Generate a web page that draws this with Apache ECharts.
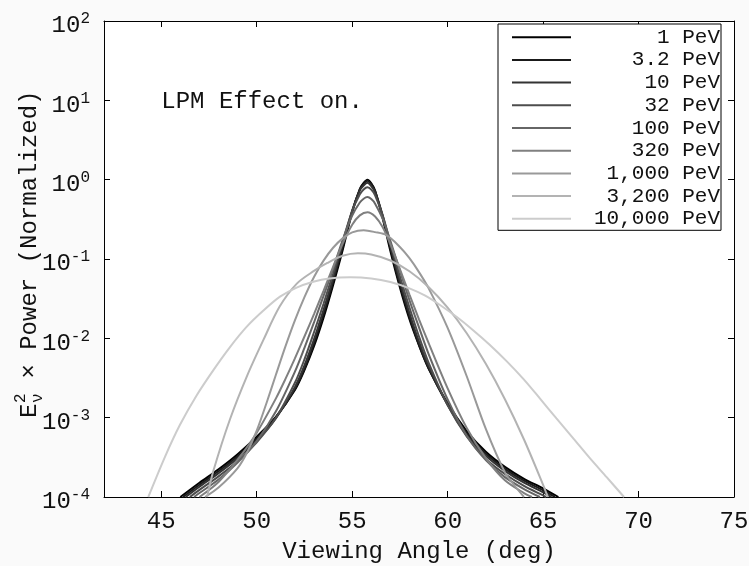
<!DOCTYPE html>
<html>
<head>
<meta charset="utf-8">
<script src="https://cdn.jsdelivr.net/npm/echarts@6/dist/echarts.min.js"></script>
<style>
  html, body { margin: 0; padding: 0; background: #fafafa; }
  #chart { width: 749px; height: 566px; }
</style>
</head>
<body>
<div id="chart"></div>
<script>
// Normalised radio power vs. viewing angle, one curve per shower energy.
// Each point is [viewing angle in deg, log10(E^2 x power)].
const curve1PeV = [[46.0,-4.00],[47,-3.82],[48,-3.65],[49,-3.46],[50,-3.24],[51,-2.99],[52,-2.65],[52.5,-2.40],[53,-2.10],[53.5,-1.74],[54,-1.33],[54.5,-0.89],[55,-0.41],[55.4,-0.12],[55.6,-0.04],[55.8,0.00],[56.0,-0.045],[56.2,-0.14],[56.6,-0.49],[57,-0.90],[57.5,-1.36],[58,-1.76],[58.5,-2.09],[59,-2.38],[60,-2.82],[61,-3.17],[62,-3.43],[63,-3.62],[64,-3.77],[65,-3.89],[65.8,-4.00]];
const curve3PeV = [[46.14,-4.00],[47,-3.845],[48,-3.675],[49,-3.485],[50,-3.265],[51,-3.00],[52,-2.64],[52.5,-2.385],[53,-2.064],[53.5,-1.697],[54,-1.29],[54.5,-0.856],[55,-0.397],[55.4,-0.121],[55.6,-0.05],[55.8,-0.013],[56.0,-0.056],[56.2,-0.141],[56.6,-0.469],[57,-0.868],[57.5,-1.328],[58,-1.73],[58.5,-2.082],[59,-2.375],[60,-2.835],[61,-3.195],[62,-3.455],[63,-3.645],[64,-3.795],[65,-3.915],[65.62,-4.00]];
const curve10PeV = [[46.28,-4.00],[47,-3.87],[48,-3.70],[49,-3.51],[50,-3.29],[51,-3.008],[52,-2.615],[52.5,-2.342],[53,-2.013],[53.5,-1.64],[54,-1.244],[54.5,-0.814],[55,-0.39],[55.4,-0.135],[55.6,-0.073],[55.8,-0.04],[56.0,-0.08],[56.2,-0.159],[56.6,-0.452],[57,-0.833],[57.5,-1.28],[58,-1.68],[58.5,-2.042],[59,-2.35],[60,-2.84],[61,-3.22],[62,-3.48],[63,-3.67],[64,-3.82],[65,-3.94],[65.44,-4.00]];
const curve32PeV = [[46.5,-4.00],[47,-3.91],[48,-3.74],[49,-3.55],[50,-3.31],[51,-3.005],[52,-2.56],[52.5,-2.265],[53,-1.923],[53.5,-1.564],[54,-1.182],[54.5,-0.777],[55,-0.395],[55.4,-0.185],[55.6,-0.123],[55.8,-0.097],[56.0,-0.125],[56.2,-0.197],[56.6,-0.452],[57,-0.794],[57.5,-1.222],[58,-1.611],[58.5,-1.977],[59,-2.306],[60,-2.84],[61,-3.236],[62,-3.52],[63,-3.71],[64,-3.86],[65,-3.98],[65.16,-4.00]];
const curve100PeV = [[46.72,-4.00],[47,-3.95],[48,-3.78],[49,-3.565],[50,-3.295],[51,-2.923],[52,-2.42],[52.5,-2.12],[53,-1.80],[53.5,-1.465],[54,-1.125],[54.5,-0.761],[55,-0.452],[55.4,-0.288],[55.6,-0.24],[55.8,-0.22],[56.0,-0.245],[56.2,-0.302],[56.6,-0.495],[57,-0.772],[57.5,-1.146],[58,-1.52],[58.5,-1.862],[59,-2.195],[60,-2.77],[61,-3.227],[62,-3.535],[63,-3.75],[64,-3.90],[64.83,-4.00]];
const curve320PeV = [[47.0,-4.00],[48,-3.81],[49,-3.53],[50,-3.19],[51,-2.76],[51.5,-2.515],[52,-2.253],[52.5,-1.977],[53,-1.694],[53.5,-1.402],[54,-1.098],[54.5,-0.807],[55,-0.568],[55.4,-0.45],[55.8,-0.41],[56.2,-0.464],[56.6,-0.60],[57,-0.813],[57.5,-1.128],[58,-1.449],[58.5,-1.76],[59,-2.057],[60,-2.63],[61,-3.13],[62,-3.51],[63,-3.79],[64,-3.95],[64.42,-4.00]];
const curve1000PeV = [[47.29,-4.00],[48,-3.88],[49,-3.635],[49.5,-3.435],[50,-3.163],[50.5,-2.824],[51,-2.462],[51.5,-2.105],[52,-1.774],[52.5,-1.481],[53,-1.226],[53.5,-1.02],[54,-0.858],[54.5,-0.74],[55,-0.665],[55.6,-0.638],[56.2,-0.661],[56.8,-0.70],[57.5,-0.848],[58,-0.99],[58.5,-1.165],[59,-1.367],[60,-1.868],[61,-2.478],[62,-3.142],[63,-3.69],[63.5,-3.855],[64,-4.00]];
const curve3200PeV = [[47.4,-4.00],[47.73,-3.67],[48.6,-3.02],[49.5,-2.47],[50.35,-2.02],[51.2,-1.60],[52.1,-1.31],[53,-1.15],[53.7,-1.05],[54.5,-0.96],[55.3,-0.929],[56,-0.944],[57,-1.019],[58,-1.155],[59,-1.353],[60,-1.614],[61,-1.936],[62,-2.321],[63,-2.767],[64,-3.275],[65,-3.846],[65.25,-4.00]];
const curve10000PeV = [[44.32,-4.00],[45.2,-3.49],[45.98,-3.09],[46.85,-2.72],[47.73,-2.40],[48.6,-2.11],[49.48,-1.853],[50.35,-1.65],[51.22,-1.475],[52.09,-1.36],[52.96,-1.286],[53.8,-1.245],[54.9,-1.23],[56,-1.245],[57,-1.29],[58,-1.37],[58.8,-1.46],[59.6,-1.58],[60.5,-1.735],[61.35,-1.90],[62.2,-2.08],[63.1,-2.29],[64,-2.52],[64.84,-2.76],[65.7,-3.01],[66.58,-3.26],[67.45,-3.51],[68.33,-3.75],[69.24,-4.00]];

const energyLabels = ['1 PeV', '3.2 PeV', '10 PeV', '32 PeV', '100 PeV', '320 PeV', '1,000 PeV', '3,200 PeV', '10,000 PeV'];
const angleTicks = [45, 50, 55, 60, 65, 70, 75];
const powerTicks = [1e-4, 1e-3, 1e-2, 1e-1, 1e0, 1e1, 1e2];

const curves = [curve1PeV, curve3PeV, curve10PeV, curve32PeV, curve100PeV, curve320PeV, curve1000PeV, curve3200PeV, curve10000PeV];
const greys = ['#000000', '#1a1a1a', '#333333', '#4d4d4d', '#666666', '#808080', '#999999', '#b3b3b3', '#cccccc'];
const MONO = '"Liberation Mono", "Courier New", "DejaVu Sans Mono", monospace';
const INK = '#111111';

const chart = echarts.init(document.getElementById('chart'), null, { renderer: 'canvas' });

const boxAxis = (extra) => Object.assign({
  axisLine: { show: true, onZero: false, lineStyle: { color: '#000', width: 1 } },
  axisTick: { show: true, inside: true, length: 6, lineStyle: { color: '#000', width: 1 } },
  splitLine: { show: false }
}, extra);

const series = curves.map((pts, i) => ({
  type: 'line',
  name: energyLabels[i],
  data: pts.map(([angle, lg]) => [angle, Math.pow(10, lg)]),
  showSymbol: false,
  smooth: 0.3,
  clip: true,
  z: 2 + i,
  lineStyle: { color: greys[i], width: 2 },
  itemStyle: { color: greys[i] },
  emphasis: { disabled: true },
  animation: false
}));

chart.setOption({
  animation: false,
  backgroundColor: '#fafafa',
  grid: {
    left: 104, right: 15, top: 21, bottom: 69, outerBoundsMode: 'none', containLabel: false,
    show: true, backgroundColor: '#ffffff', borderWidth: 0
  },
  xAxis: [
    boxAxis({
      type: 'value', min: 42, max: 75, position: 'bottom',
      axisTick: { show: true, inside: true, length: 6, customValues: angleTicks, lineStyle: { color: '#000' } },
      axisLabel: { customValues: angleTicks, color: INK, fontFamily: MONO, fontSize: 24, margin: 13 },
      name: 'Viewing Angle (deg)', nameLocation: 'middle', nameGap: 43,
      nameTextStyle: { color: INK, fontFamily: MONO, fontSize: 24 }
    }),
    boxAxis({
      type: 'value', min: 42, max: 75, position: 'top',
      axisTick: { show: true, inside: true, length: 6, customValues: angleTicks, lineStyle: { color: '#000' } },
      axisLabel: { show: false }
    })
  ],
  yAxis: [
    boxAxis({
      type: 'log', logBase: 10, min: 1e-4, max: 1e2, position: 'left',
      axisTick: { show: true, inside: true, length: 6, customValues: powerTicks, lineStyle: { color: '#000' } },
      axisLabel: {
        customValues: powerTicks, margin: 14, padding: [10, 0, 0, 0],
        formatter: (v) => '{b|10}{s|' + Math.round(Math.log10(v)) + '}',
        rich: {
          b: { fontFamily: MONO, fontSize: 24, color: INK, lineHeight: 30 },
          s: { fontFamily: MONO, fontSize: 16, color: INK, lineHeight: 12, verticalAlign: 'top' }
        }
      }
    }),
    boxAxis({
      type: 'log', logBase: 10, min: 1e-4, max: 1e2, position: 'right',
      axisTick: { show: true, inside: true, length: 6, customValues: powerTicks, lineStyle: { color: '#000' } },
      axisLabel: { show: false }
    })
  ],
  legend: {
    data: energyLabels,
    orient: 'vertical', left: 498, top: 24,
    padding: [2.7, 1, 1, 14], itemGap: 1.7, itemWidth: 59, itemHeight: 2,
    icon: 'rect', selectedMode: false,
    backgroundColor: '#ffffff', borderColor: '#000', borderWidth: 1,
    formatter: '{t|{name}}',
    textStyle: {
      rich: { t: { fontFamily: MONO, fontSize: 21, color: INK, width: 144, align: 'right', lineHeight: 22.6 } }
    }
  },
  series: series
});

// Annotation and the y-axis title (with stacked super/subscript)
const lpmAt = chart.convertToPixel({ xAxisIndex: 0, yAxisIndex: 0 }, [45, 10]);
const titleStart = -163;
chart.setOption({
  graphic: [
    {
      type: 'text', x: lpmAt[0], y: lpmAt[1] + 1.5, silent: true,
      style: { text: 'LPM Effect on.', fontFamily: MONO, fontSize: 24, fill: INK, align: 'left', verticalAlign: 'middle' }
    },
    {
      type: 'group', x: 30, y: 255, rotation: Math.PI / 2, silent: true,
      children: [
        { type: 'text', x: titleStart, y: 0, style: { text: 'E', fontFamily: MONO, fontSize: 24, fill: INK, verticalAlign: 'middle' } },
        { type: 'text', x: titleStart + 15, y: -9, style: { text: '2', fontFamily: MONO, fontSize: 16, fill: INK, verticalAlign: 'middle' } },
        { type: 'text', x: titleStart + 15, y: 8, style: { text: 'ν', fontFamily: MONO, fontSize: 16, fill: INK, verticalAlign: 'middle' } },
        { type: 'text', x: titleStart + 25, y: 0, style: { text: ' × Power (Normalized)', fontFamily: MONO, fontSize: 24, fill: INK, verticalAlign: 'middle' } }
      ]
    }
  ]
});
</script>
</body>
</html>
